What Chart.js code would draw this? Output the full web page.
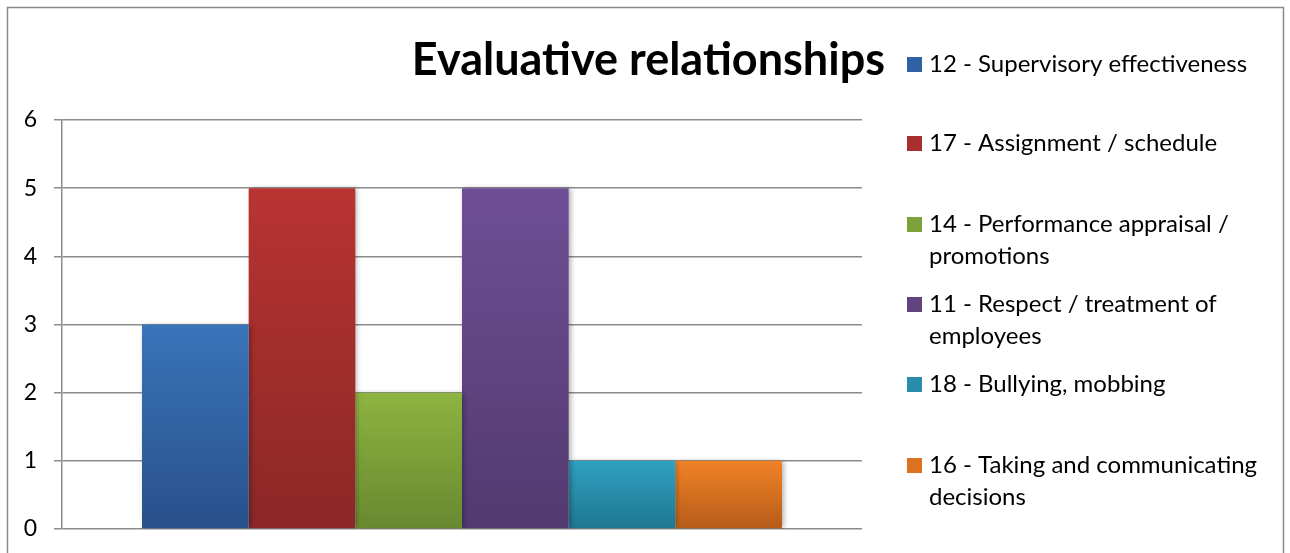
<!DOCTYPE html>
<html><head><meta charset="utf-8">
<script src="https://cdn.jsdelivr.net/npm/chart.js@4.4.1/dist/chart.umd.min.js"></script>
<style>html,body{margin:0;padding:0;background:#fff;}#wrap{width:1290px;height:553px;position:relative;}</style>
</head><body><div id="wrap"><canvas id="c" width="1290" height="553"></canvas></div>
<script>
const categories = [''];
const seriesNames = ['12 - Supervisory effectiveness','17 - Assignment / schedule','14 - Performance appraisal / promotions','11 - Respect / treatment of employees','18 - Bullying, mobbing','16 - Taking and communicating decisions'];
const legendLines = [['12 - Supervisory effectiveness'],['17 - Assignment / schedule'],['14 - Performance appraisal /','promotions'],['11 - Respect / treatment of','employees'],['18 - Bullying, mobbing'],['16 - Taking and communicating','decisions']];
const seriesValues = [3,5,2,5,1,1];
const yTicks = [0,1,2,3,4,5,6];
const topColors = ['#3a74ba','#b83431','#8eb441','#6f4e96','#2fa1c1','#f08226'];
const bottomColors = ['#28508a','#8b2727','#68882f','#523a6f','#1f7690','#b65c1a'];
const legendColors = ['#2f62a3','#a82f2d','#7da23a','#61447f','#2a8cab','#dc721f'];
const legendY = [64,143,224,304,384,465];

const datasets = seriesNames.map((n,i)=>({
  label:n,
  data:[seriesValues[i]],
  backgroundColor:(ctx)=>{
    const ch = ctx.chart; const ys = ch.scales && ch.scales.y;
    if(!ch.chartArea || !ys) return topColors[i];
    const top = ys.getPixelForValue(seriesValues[i]);
    const base = ys.getPixelForValue(0);
    const g = ch.ctx.createLinearGradient(0,top,0,base);
    g.addColorStop(0,topColors[i]); g.addColorStop(1,bottomColors[i]);
    return g;
  },
  borderWidth:0,
  barPercentage:1,
  categoryPercentage:0.8
}));

const deco = {
  id:'deco',
  beforeDraw(chart){
    const c = chart.ctx; c.save();
    c.fillStyle='#fff'; c.fillRect(0,0,chart.width,chart.height);
    c.strokeStyle='#8a8a8a'; c.lineWidth=1.5;
    c.strokeRect(7.5,7.5,1276,600);
    c.restore();
  },
  beforeDatasetsDraw(chart){
    const c=chart.ctx; c.save();
    c.shadowColor='rgba(0,0,0,0.3)'; c.shadowBlur=5; c.shadowOffsetX=2; c.shadowOffsetY=0;
  },
  afterDatasetsDraw(chart){ chart.ctx.restore(); },
  afterDraw(chart){
    const c = chart.ctx; c.save();
    c.fillStyle='#000'; c.textBaseline='middle'; c.textAlign='right';
    c.font='bold 45px Lato';
    c.fillText('Evaluative relationships',885,60);
    c.textAlign='left';
    c.font='24px Lato';
    legendLines.forEach((lines,i)=>{
      const y = legendY[i];
      c.fillStyle=legendColors[i];
      c.fillRect(907,y-7,15,15);
      c.fillStyle='#000';
      lines.forEach((t,k)=>c.fillText(t,929,y+k*32));
    });
    c.restore();
  }
};

new Chart(document.getElementById('c'),{
  type:'bar',
  data:{labels:categories,datasets},
  options:{
    responsive:false,animation:false,
    layout:{padding:{left:0,right:428,top:120,bottom:24}},
    plugins:{legend:{display:false},title:{display:false},tooltip:{enabled:false}},
    scales:{
      x:{display:false,grid:{display:false}},
      y:{min:0,max:6,
        afterFit(s){s.width=62;s.paddingTop=0;s.paddingBottom=0;},
        afterBuildTicks(s){s.ticks=yTicks.map(v=>({value:v}));},
        ticks:{padding:17,color:'#000',font:{family:'Lato',size:23}},
        grid:{color:'#8c8c8c',lineWidth:1.5,tickLength:8,drawTicks:true},
        border:{display:true,color:'#8c8c8c',width:1.5}
      }
    }
  },
  plugins:[deco]
});
</script></body></html>
